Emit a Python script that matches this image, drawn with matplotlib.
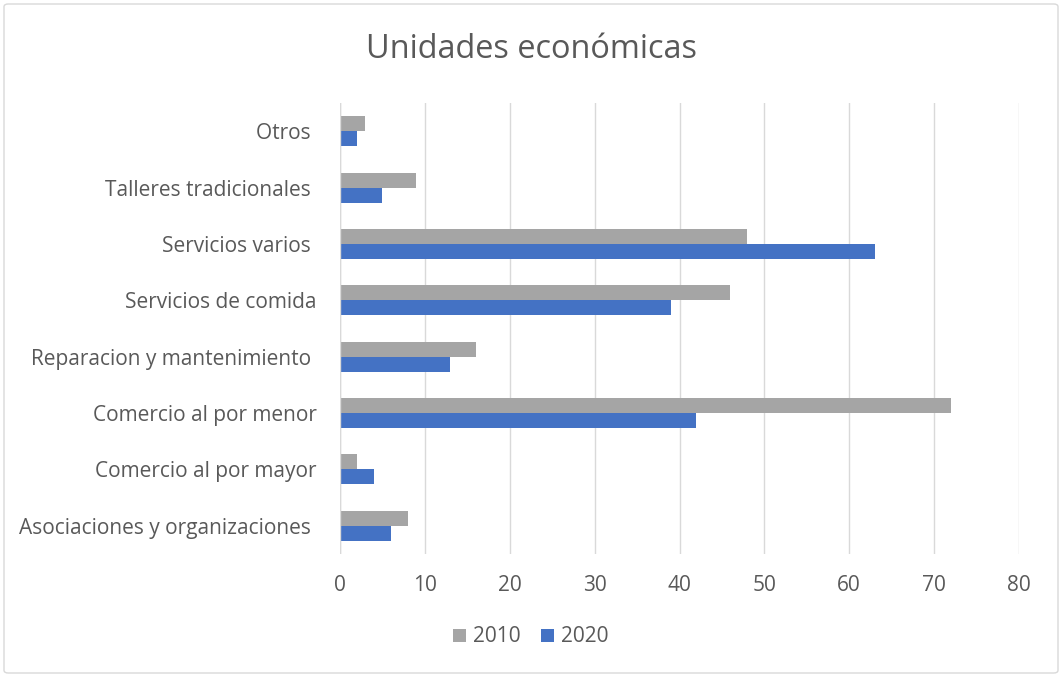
import matplotlib
matplotlib.use("Agg")
import matplotlib.pyplot as plt
from matplotlib.patches import FancyBboxPatch
import numpy as np

plt.rcParams['font.family'] = ['Open Sans', 'DejaVu Sans']

categories = ["Asociaciones y organizaciones ", "Comercio al por mayor", "Comercio al por menor",
              "Reparacion y mantenimiento ", "Servicios de comida", "Servicios varios ",
              "Talleres tradicionales ", "Otros "]
values_2010 = [8, 2, 72, 16, 46, 48, 9, 3]
values_2020 = [6, 4, 42, 13, 39, 63, 5, 2]
xticks = [0, 10, 20, 30, 40, 50, 60, 70, 80]

W, H = 1062, 677
fig = plt.figure(figsize=(W/100, H/100), dpi=100)
fig.patches.append(FancyBboxPatch((4/W, 4/H), 1-8/W, 1-8/H, boxstyle="round,pad=0,rounding_size=0.004",
                                  transform=fig.transFigure, fill=False, edgecolor="#D9D9D9", linewidth=1))

left, right = 340/W, 1019/W
top, bottom = 1-103/H, 1-554/H
ax = fig.add_axes([left, bottom, right-left, top-bottom])

y = np.arange(len(categories))
bh = 0.266
ax.barh(y + bh/2, values_2010, height=bh, color="#A5A5A5", label="2010", zorder=3)
ax.barh(y - bh/2, values_2020, height=bh, color="#4472C4", label="2020", zorder=3)

ax.set_xlim(0, 80)
ax.set_ylim(-0.5, len(categories)-0.5)
ax.set_xticks(xticks)
ax.set_xticklabels([str(t) for t in xticks], fontsize=15, color="#595959")
ax.set_yticks(y)
ax.set_yticklabels(categories, fontsize=15, color="#595959")
ax.tick_params(axis='both', length=0)
ax.tick_params(axis='x', pad=15)
ax.tick_params(axis='y', pad=17)
ax.grid(axis='x', color="#D9D9D9", linewidth=1, zorder=0)
for s in ax.spines.values():
    s.set_visible(False)
ax.axvline(0, color="#D9D9D9", linewidth=1, zorder=4)

fig.text(0.5, 1-50/H, "Unidades económicas", ha="center", va="center", fontsize=23.4, color="#595959")

handles, labels = ax.get_legend_handles_labels()
fig.legend(handles, labels, loc="center", bbox_to_anchor=(0.5, 1-637/H), ncol=2, frameon=False,
           fontsize=15, labelcolor="#595959", handlelength=0.6, handleheight=0.6,
           handletextpad=0.35, columnspacing=1.0)

fig.savefig("out.png", dpi=100)
